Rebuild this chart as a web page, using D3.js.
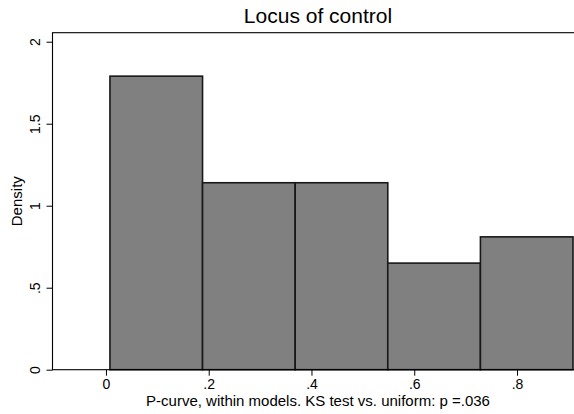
<!DOCTYPE html>
<html>
<head>
<meta charset="utf-8">
<script src="https://cdn.jsdelivr.net/npm/d3@7"></script>
<style>
  html, body { margin: 0; padding: 0; background: #fff; }
  svg { display: block; font-family: "Liberation Sans", Arial, Helvetica, sans-serif; }
</style>
</head>
<body>
<svg id="chart" width="574" height="414"></svg>
<script>
// Histogram of p-values: bin edges and density per bin
const binEdges = [0.0078, 0.1880, 0.3683, 0.5485, 0.7288, 0.9090];
const densities = [1.79, 1.14, 1.14, 0.65, 0.81];
const xTicks = [0, 0.2, 0.4, 0.6, 0.8];
const yTicks = [0, 0.5, 1, 1.5, 2];
const titleText = "Locus of control";
const xTitleText = "P-curve, within models. KS test vs. uniform: p =.036";
const yTitleText = "Density";

const bins = densities.map((d, i) => ({ x0: binEdges[i], x1: binEdges[i + 1], density: d }));

const svg = d3.select("#chart");
const W = 574, H = 414;
const plot = { left: 52.5, right: 583.5, top: 32.7, bottom: 369.7 };

const x = d3.scaleLinear().domain([-0.104, 0.9294]).range([plot.left, plot.right]);
const y = d3.scaleLinear().domain([0, 2.055]).range([plot.bottom, plot.top]);

// Stata-style labels: drop the leading zero (".5", ".2")
const fmt = v => (v === 0 ? "0" : d3.format("")(v).replace(/^0\./, "."));

svg.append("rect").attr("width", W).attr("height", H).attr("fill", "#fff");

// bars
svg.append("g")
  .selectAll("rect")
  .data(bins)
  .join("rect")
  .attr("x", d => x(d.x0))
  .attr("y", d => y(d.density))
  .attr("width", d => x(d.x1) - x(d.x0))
  .attr("height", d => y(0) - y(d.density))
  .attr("fill", "#808080")
  .attr("stroke", "#181818")
  .attr("stroke-width", 1.6);

// plot region frame
svg.append("rect")
  .attr("x", plot.left).attr("y", plot.top)
  .attr("width", plot.right - plot.left)
  .attr("height", plot.bottom - plot.top)
  .attr("fill", "none")
  .attr("stroke", "#000")
  .attr("stroke-width", 1.1);

// y axis
const yAxis = svg.append("g")
  .attr("transform", `translate(${plot.left},0)`)
  .call(d3.axisLeft(y).tickValues(yTicks).tickFormat(fmt).tickSize(6).tickSizeOuter(0));
yAxis.select(".domain").remove();
yAxis.selectAll(".tick line").attr("stroke", "#000");
yAxis.selectAll(".tick text")
  .attr("x", null).attr("dy", null)
  .attr("transform", "translate(-13,0) rotate(-90)")
  .attr("text-anchor", "middle")
  .attr("fill", "#000")
  .style("font-size", "14px")
  .style("font-family", "'Liberation Sans', Arial, sans-serif");

// x axis
const xAxis = svg.append("g")
  .attr("transform", `translate(0,${plot.bottom})`)
  .call(d3.axisBottom(x).tickValues(xTicks).tickFormat(fmt).tickSize(6).tickSizeOuter(0));
xAxis.select(".domain").remove();
xAxis.selectAll(".tick line").attr("stroke", "#000");
xAxis.selectAll(".tick text")
  .attr("y", 19.5).attr("dy", null)
  .attr("fill", "#000")
  .style("font-size", "14px")
  .style("font-family", "'Liberation Sans', Arial, sans-serif");

// titles
const cx = (plot.left + plot.right) / 2;
svg.append("text")
  .attr("x", cx).attr("y", 22.7)
  .attr("text-anchor", "middle")
  .style("font-size", "21px")
  .text(titleText);

svg.append("text")
  .attr("x", cx).attr("y", 406)
  .attr("text-anchor", "middle")
  .style("font-size", "15px")
  .text(xTitleText);

svg.append("text")
  .attr("transform", `translate(22,${(plot.top + plot.bottom) / 2}) rotate(-90)`)
  .attr("text-anchor", "middle")
  .style("font-size", "15px")
  .text(yTitleText);
</script>
</body>
</html>
